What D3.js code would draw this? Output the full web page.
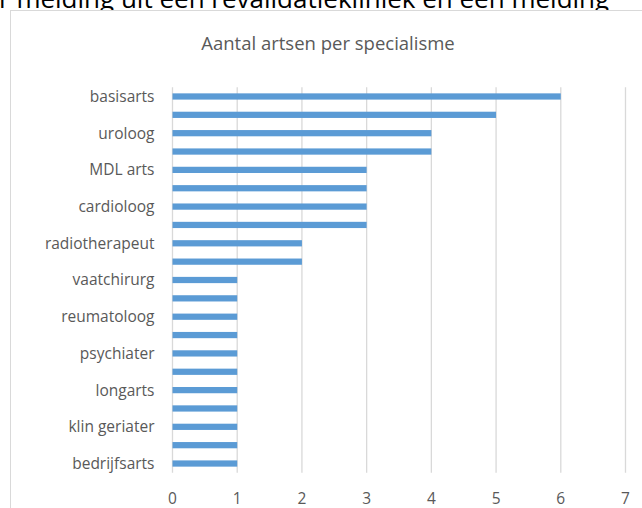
<!DOCTYPE html>
<html lang="en">
<head>
<meta charset="utf-8">
<title>Aantal artsen per specialisme</title>
<script src="https://d3js.org/d3.v7.min.js"></script>
<style>
  body { margin: 0; background: #fff; overflow: hidden; }
  * { font-family: "Open Sans", sans-serif; }
  .label { fill: #595959; font-size: 15.5px; }
</style>
</head>
<body>
<svg class="bar-chart"></svg>
<script>
// categories from top to bottom; only every other one carries a visible label
const categories = ["basisarts", "", "uroloog", "", "MDL arts", "", "cardioloog", "",
  "radiotherapeut", "", "vaatchirurg", "", "reumatoloog", "", "psychiater", "",
  "longarts", "", "klin geriater", "", "bedrijfsarts"];
const values = [6, 5, 4, 4, 3, 3, 3, 3, 2, 2, 1, 1, 1, 1, 1, 1, 1, 1, 1, 1, 1];
const xTicks = [0, 1, 2, 3, 4, 5, 6, 7];

const w = 642, h = 508;
const margin = {top: 87.3, left: 172.5, right: 16.5, bottom: 35.3};
const width = w - margin.left - margin.right;
const height = h - margin.top - margin.bottom;

const root = d3.select("svg.bar-chart")
  .attr("width", w)
  .attr("height", h);

// text above the chart, cut off by the window edge
root.append("text")
  .attr("x", -1)
  .attr("y", 8)
  .style("font-size", "26px")
  .style("fill", "#000")
  .text("r melding uit een revalidatiekliniek en een melding");

// chart frame
root.append("rect")
  .attr("x", 10.5)
  .attr("y", 10.5)
  .attr("width", 700)
  .attr("height", 600)
  .attr("fill", "#fff")
  .attr("stroke", "#d9d9d9");

root.append("text")
  .attr("x", 328)
  .attr("y", 50)
  .attr("text-anchor", "middle")
  .style("font-size", "18.5px")
  .style("fill", "#595959")
  .text("Aantal artsen per specialisme");

const svg = root.append("g")
  .attr("transform", "translate(" + margin.left + "," + margin.top + ")");

const x = d3.scaleLinear().domain([0, 7]).range([0, width]);
const y = d3.scaleBand()
  .domain(d3.range(categories.length))
  .range([0, height])
  .paddingInner(0.66)
  .paddingOuter(0.33);

// vertical gridlines
svg.append("g")
  .selectAll("line")
  .data(xTicks)
  .enter()
  .append("line")
  .attr("x1", d => x(d))
  .attr("x2", d => x(d))
  .attr("y1", 0)
  .attr("y2", height)
  .attr("stroke", "#d9d9d9")
  .attr("stroke-width", 1.3);

// x tick labels
svg.append("g")
  .selectAll("text")
  .data(xTicks)
  .enter()
  .append("text")
  .attr("class", "label")
  .attr("x", d => x(d))
  .attr("y", height + 31)
  .attr("text-anchor", "middle")
  .text(d => d);

// bars
svg.append("g")
  .selectAll("rect")
  .data(values)
  .enter()
  .append("rect")
  .attr("x", x(0))
  .attr("y", (d, i) => y(i))
  .attr("width", d => x(d) - x(0))
  .attr("height", y.bandwidth())
  .attr("fill", "#5b9bd5");

// category labels
svg.append("g")
  .selectAll("text")
  .data(categories)
  .enter()
  .append("text")
  .attr("class", "label")
  .attr("x", -18)
  .attr("y", (d, i) => y(i) + y.bandwidth() / 2)
  .attr("dy", "0.35em")
  .attr("text-anchor", "end")
  .text(d => d);
</script>
</body>
</html>
